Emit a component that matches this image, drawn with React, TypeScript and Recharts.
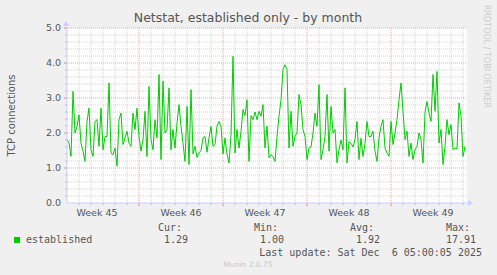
import React from 'react';
import { LineChart, Line, XAxis, YAxis, CartesianGrid, ReferenceLine } from 'recharts';

// one sample every 4 hours, day 0 = left edge of the plot
const established = [
  1.81, 1.71, 1.33, 3.19, 2.0, 2.19, 2.52, 1.71, 1.48, 1.19, 2.33, 2.71, 1.52, 1.33, 2.33, 2.38, 1.62,
  2.71, 1.52, 1.9, 1.9, 3.43, 1.43, 1.38, 1.57, 1.05, 2.38, 2.57, 1.67, 1.86, 2.05, 1.71, 1.62, 2.57,
  2.1, 2.71, 1.9, 1.48, 1.81, 2.62, 1.33, 3.33, 1.81, 1.52, 2.38, 1.86, 3.67, 1.24, 3.48, 2.0, 2.1,
  3.29, 1.52, 2.1, 1.57, 2.29, 2.81, 2.19, 1.71, 1.19, 2.76, 1.1, 3.24, 1.4, 1.62, 1.3, 1.43, 1.5,
  1.86, 1.9, 1.45, 1.86, 2.19, 1.62, 1.67, 2.19, 2.33, 2.19, 1.4, 1.86, 1.4, 1.14, 1.95, 4.19, 1.43,
  2.1, 1.57, 2.05, 2.67, 2.5, 2.95, 1.19, 2.5, 2.38, 2.6, 2.38, 2.62, 2.48, 2.81, 1.57, 2.19, 1.29,
  1.38, 1.33, 1.19, 1.9, 2.48, 2.95, 3.81, 3.95, 3.81, 1.57, 2.62, 1.62, 1.9, 2.0, 3.1, 2.81, 2.1,
  1.9, 1.24, 1.57, 1.6, 2.0, 2.57, 2.19, 3.38, 1.24, 1.52, 1.9, 3.1, 1.48, 2.76, 2.0, 2.1, 1.15, 1.52,
  1.8, 1.52, 3.29, 1.14, 1.75, 1.71, 1.6, 1.81, 2.33, 1.24, 1.85, 1.33, 1.71,
  2.33, 1.9, 1.9, 2.05, 1.48, 1.19, 1.86, 2.19, 2.38, 1.57, 1.43, 1.33, 2.33, 1.67, 2.0, 2.38, 2.95,
  3.43, 2.62, 1.81, 2.05, 1.33, 1.71, 1.24, 1.52, 1.62, 2.0, 1.81, 1.14, 2.6, 2.9, 2.57, 2.33, 3.67,
  2.62, 3.76, 1.71, 2.1, 1.1, 1.62, 2.38, 1.95, 2.24, 1.52, 1.57, 1.55, 2.86, 2.48, 1.33, 1.62,
];
const STEP_DAYS = 1 / 6;
const SPAN_DAYS = 400 / 12;

const weekLabels = ['Week 45', 'Week 46', 'Week 47', 'Week 48', 'Week 49'];
const weekLabelDays = [2.5, 9.5, 16.5, 23.5, 30.5];
const weekStartDays = [6, 13, 20, 27];
const yTicks = [0, 1, 2, 3, 4, 5];

const legendHeaders = ['Cur:', 'Min:', 'Avg:', 'Max:'];
const legendValues = ['1.29', '1.00', '1.92', '17.91'];

const data = established.map((v, i) => ({ day: i * STEP_DAYS, v }));

const minorDays = Array.from({ length: 33 }, (_, i) => i + 1).filter((d) => !weekStartDays.includes(d));
const minorY = Array.from({ length: 24 }, (_, i) => Math.round((i + 1) * 2) / 10).filter((v) => v % 1 !== 0);
const majorY = [1, 2, 3, 4, 5];

const AXIS = '#ccccff';
const MINOR = '#d4d4d4';
const MAJOR = '#e6a8a8';
const TEXT = '#555555';
const SANS = '"DejaVu Sans", sans-serif';
const MONO = '"DejaVu Sans Mono", monospace';

const colX = [182, 278, 374, 470];

export default function App() {
  return (
    <div style={{ position: 'fixed', left: 0, top: 0, width: 497, height: 275, background: '#f0f0f0', fontFamily: SANS }}>
      <LineChart width={497} height={275} data={data} margin={{ top: 28, right: 30, bottom: 52, left: 27 }}>
        <CartesianGrid fill="#ffffff" fillOpacity={1} horizontal={false} vertical={false} />
        {minorDays.map((d) => (
          <ReferenceLine key={'vd' + d} x={d} stroke={MINOR} strokeDasharray="1 1" zIndex={-50} />
        ))}
        {minorY.map((v) => (
          <ReferenceLine key={'hy' + v} y={v} stroke={MINOR} strokeDasharray="1 1" zIndex={-50} />
        ))}
        {weekStartDays.map((d) => (
          <ReferenceLine key={'vw' + d} x={d} stroke={MAJOR} strokeDasharray="1 1" zIndex={-40} />
        ))}
        {majorY.map((v) => (
          <ReferenceLine key={'hm' + v} y={v} stroke={MAJOR} strokeDasharray="1 1" zIndex={-40} />
        ))}
        {/* small tick marks on the axes */}
        {minorDays.map((d) => (
          <ReferenceLine key={'td' + d} segment={[{ x: d, y: 0 }, { x: d, y: -0.06 }]} stroke="#bbbbbb" ifOverflow="visible" />
        ))}
        {weekStartDays.map((d) => (
          <ReferenceLine key={'tw' + d} segment={[{ x: d, y: 0 }, { x: d, y: -0.09 }]} stroke="#dd8888" ifOverflow="visible" />
        ))}
        {minorY.map((v) => (
          <ReferenceLine key={'ty' + v} segment={[{ x: 0, y: v }, { x: -0.17, y: v }]} stroke="#bbbbbb" ifOverflow="visible" />
        ))}
        {majorY.map((v) => (
          <ReferenceLine key={'tm' + v} segment={[{ x: 0, y: v }, { x: -0.25, y: v }]} stroke="#dd8888" ifOverflow="visible" />
        ))}
        <XAxis
          type="number"
          dataKey="day"
          domain={[0, SPAN_DAYS]}
          ticks={weekLabelDays}
          interval={0}
          tickFormatter={(d: number) => weekLabels[weekLabelDays.indexOf(d)]}
          tickLine={false}
          tickSize={4}
          tickMargin={2}
          axisLine={{ stroke: AXIS }}
          tick={{ fill: TEXT, fontSize: 9.5, fontFamily: SANS }}
          height={20}
        />
        <YAxis
          domain={[0, 5]}
          ticks={yTicks}
          interval={0}
          tickFormatter={(v: number) => v.toFixed(1)}
          tickLine={false}
          tickSize={4}
          tickMargin={2}
          axisLine={{ stroke: AXIS }}
          tick={{ fill: TEXT, fontSize: 9.5, fontFamily: SANS }}
          width={40}
        />
        <Line type="linear" dataKey="v" stroke="#00cc00" strokeWidth={1} dot={false} isAnimationActive={false} />
      </LineChart>
      <svg width={497} height={275} style={{ position: 'absolute', left: 0, top: 0, pointerEvents: 'none' }}>
        <text x={248} y={22} textAnchor="middle" fontSize={12.5} fill={TEXT} fontFamily={SANS}>
          Netstat, established only - by month
        </text>
        <text transform="translate(15,115.5) rotate(-90)" textAnchor="middle" fontSize={10} fill={TEXT} fontFamily={SANS}>
          TCP connections
        </text>
        <text transform="translate(484,5) rotate(90)" fontSize={8} fill="#cccccc" fontFamily={SANS}>
          RRDTOOL / TOBI OETIKER
        </text>
        <polygon points="468,200 473,203 468,206" fill={AXIS} />
        <polygon points="63,26 66,21 69,26" fill={AXIS} />
        <rect x={14} y={237} width={6} height={6} fill="#00cc00" />
        <text x={26} y={242.5} fontSize={10} fill={TEXT} fontFamily={MONO}>
          established
        </text>
        {legendHeaders.map((h, i) => (
          <text key={h} x={colX[i]} y={230.5} textAnchor="end" fontSize={10} fill={TEXT} fontFamily={MONO}>
            {h}
          </text>
        ))}
        {legendValues.map((v, i) => (
          <text key={i} x={colX[i] + 6} y={242.5} textAnchor="end" fontSize={10} fill={TEXT} fontFamily={MONO}>
            {v}
          </text>
        ))}
        <text x={482} y={255.5} textAnchor="end" fontSize={10} fill={TEXT} fontFamily={MONO} style={{ whiteSpace: 'pre' }}>
          {'Last update: Sat Dec  6 05:00:05 2025'}
        </text>
        <text x={248} y={267} textAnchor="middle" fontSize={7.5} fill="#c8c8c8" fontFamily={SANS}>
          Munin 2.0.75
        </text>
      </svg>
    </div>
  );
}
